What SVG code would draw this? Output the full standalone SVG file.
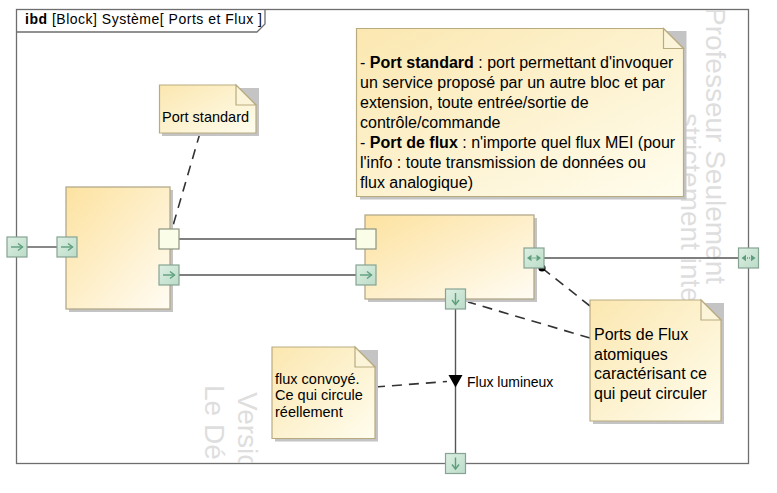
<svg xmlns="http://www.w3.org/2000/svg" xmlns:xlink="http://www.w3.org/1999/xlink" width="777" height="493" viewBox="0 0 777 493">
<style>
text{font-family:"Liberation Sans",Arial,sans-serif;fill:#000}
.wm{font-size:28px;fill:#dedede}
.frame{fill:#fff;stroke:#6e6e6e;stroke-width:1.3}
.tab{fill:none;stroke:#6e6e6e;stroke-width:1.3}
.blk{fill:url(#gBlock);stroke:#b3a98a;stroke-width:1.3}
.note{fill:url(#gNote);stroke:#b9ab80;stroke-width:1.2}
.fold{fill:#fcf4d8;stroke:#b9ab80;stroke-width:1.2}
.shadow{fill:#c4c4c4}
.pf{fill:url(#gPort);stroke:#86a393;stroke-width:1.2}
.ps{fill:#fafde8;stroke:#8c9580;stroke-width:1.2}
.ic{fill:none;stroke:#5f9e7d;stroke-width:1.4}
.icf{fill:#5f9e7d}
.con{fill:none;stroke:#555;stroke-width:1.4}
.dash{fill:none;stroke:#333;stroke-width:1.6;stroke-dasharray:10 7}
.t16{font-size:16px}
.t15{font-size:14.5px}
.t14{font-size:14.5px}
</style>
<defs>
<linearGradient id="gBlock" x1="0" y1="0" x2="1" y2="1">
<stop offset="0" stop-color="#fde2a0"/>
<stop offset="1" stop-color="#fffcf3"/>
</linearGradient>
<linearGradient id="gNote" x1="0" y1="0" x2="1" y2="1">
<stop offset="0" stop-color="#fbe7b0"/>
<stop offset="1" stop-color="#fffdee"/>
</linearGradient>
<linearGradient id="gPort" x1="0" y1="0" x2="1" y2="1">
<stop offset="0" stop-color="#dcefe2"/>
<stop offset="1" stop-color="#bcdcc9"/>
</linearGradient>
<clipPath id="cFrame"><rect x="17" y="10" width="731" height="453"/></clipPath>
<g id="arrR"><line class="ic" x1="4" y1="10" x2="15.5" y2="10"/><polyline class="ic" points="11,6.5 15.5,10 11,13.5"/></g>
<g id="arrD"><line class="ic" x1="10" y1="4" x2="10" y2="15.5"/><polyline class="ic" points="6.5,11 10,15.5 13.5,11"/></g>
<g id="arrB"><polygon class="icf" points="3,10 7.5,6.8 7.5,13.2"/><polygon class="icf" points="17,10 12.5,6.8 12.5,13.2"/><line class="ic" x1="8.5" y1="10" x2="11.5" y2="10" stroke-dasharray="1 1"/></g>
</defs>

<g id="frame">
<rect class="frame" x="16.5" y="9.5" width="732" height="454"/>
<g id="watermark" clip-path="url(#cFrame)">
<text class="wm" transform="translate(706,7) rotate(90)">Professeur Seulement</text>
<text class="wm" transform="translate(681,113) rotate(90)">strictement interne</text>
<text class="wm" transform="translate(238,392) rotate(90)">Version</text>
<text class="wm" transform="translate(205,385) rotate(90)">Le Dé</text>
</g>
<polyline class="tab" points="16.5,32 257,32 265,24 265,9.5"/>
<text x="25" y="24" font-size="14" textLength="237" lengthAdjust="spacing"><tspan font-weight="bold">ibd</tspan> [Block] Système[ Ports et Flux ]</text>
</g>

<g id="connectors">
<line class="con" x1="27" y1="247" x2="57" y2="247"/>
<line class="con" x1="179" y1="239" x2="356" y2="239"/>
<line class="con" x1="179" y1="275" x2="356" y2="275"/>
<line class="con" x1="544" y1="258" x2="738.5" y2="258"/>
<line class="con" x1="455.5" y1="309" x2="455.5" y2="453.5"/>
<polygon points="448.5,375 462.5,375 455.5,387.5" fill="#000"/>
<text x="467" y="387" font-size="14">Flux lumineux</text>
<line class="dash" x1="200" y1="133" x2="172" y2="229"/>
<line class="dash" x1="590" y1="306" x2="542" y2="268"/>
<line class="dash" x1="590" y1="338" x2="468" y2="302"/>
<line class="dash" x1="375" y1="387" x2="447" y2="381.5"/>
<circle cx="542" cy="268" r="3.6" fill="#000"/>
</g>

<g id="framePorts">
<g id="portFrameLeft"><rect class="pf" x="7" y="237" width="20" height="20"/><use xlink:href="#arrR" href="#arrR" transform="translate(7,237)"/></g>
<g id="portFrameRight"><rect class="pf" x="738.5" y="248" width="20" height="20"/><use xlink:href="#arrB" href="#arrB" transform="translate(738.5,248)"/></g>
<g id="portFrameBottom"><rect class="pf" x="445.5" y="453.5" width="20" height="20"/><use xlink:href="#arrD" href="#arrD" transform="translate(445.5,453.5)"/></g>
</g>

<g id="block1">
<rect class="shadow" x="69" y="190" width="104" height="122"/>
<rect class="blk" x="66" y="187" width="104" height="122"/>
<rect class="pf" x="57" y="237" width="20" height="20"/><use xlink:href="#arrR" href="#arrR" transform="translate(57,237)"/>
<rect class="ps" x="159" y="229" width="20" height="20"/>
<rect class="pf" x="159" y="265" width="20" height="20"/><use xlink:href="#arrR" href="#arrR" transform="translate(159,265)"/>
</g>

<g id="block2">
<rect class="shadow" x="368" y="218" width="169" height="84"/>
<rect class="blk" x="365" y="215" width="169" height="84"/>
<rect class="ps" x="356" y="229" width="20" height="20"/>
<rect class="pf" x="356" y="265" width="20" height="20"/><use xlink:href="#arrR" href="#arrR" transform="translate(356,265)"/>
<rect class="pf" x="524" y="248" width="20" height="20"/><use xlink:href="#arrB" href="#arrB" transform="translate(524,248)"/>
<rect class="pf" x="445.5" y="289" width="20" height="20"/><use xlink:href="#arrD" href="#arrD" transform="translate(445.5,289)"/>
</g>

<g id="notePortStandard">
<path class="shadow" d="M162,88 H259 V136 H162 Z"/>
<path class="note" d="M159.5,85 H236 L256,105 V133 H159.5 Z"/>
<path class="fold" d="M236,85 V105 H256 Z"/>
<text class="t14" x="162" y="121.5">Port standard</text>
</g>

<g id="noteDefinitions">
<path class="shadow" d="M360,31 H686.5 V199.5 H360 Z"/>
<path class="note" d="M356.5,28.5 H663.5 L683.5,48.5 V196.5 H356.5 Z"/>
<path class="fold" d="M663.5,28.5 V48.5 H683.5 Z"/>
<text class="t16" x="360" y="67.5">- <tspan font-weight="bold">Port standard</tspan> : port permettant d'invoquer</text>
<text class="t16" x="360" y="87.6">un service proposé par un autre bloc et par</text>
<text class="t16" x="360" y="107.7">extension, toute entrée/sortie de</text>
<text class="t16" x="360" y="127.8">contrôle/commande</text>
<text class="t16" x="360" y="147.9">- <tspan font-weight="bold">Port de flux</tspan> : n'importe quel flux MEI (pour</text>
<text class="t16" x="360" y="168">l'info : toute transmission de données ou</text>
<text class="t16" x="360" y="188.1">flux analogique)</text>
</g>

<g id="notePortsFlux">
<path class="shadow" d="M593,303 H724 V424 H593 Z"/>
<path class="note" d="M590,300 H701 L721,320 V421 H590 Z"/>
<path class="fold" d="M701,300 V320 H721 Z"/>
<text class="t16" x="594" y="340">Ports de Flux</text>
<text class="t16" x="594" y="359.5">atomiques</text>
<text class="t16" x="594" y="379">caractérisant ce</text>
<text class="t16" x="594" y="398.5">qui peut circuler</text>
</g>

<g id="noteFluxConvoye">
<path class="shadow" d="M275,350 H378 V441.5 H275 Z"/>
<path class="note" d="M272,347 H355 L375,367 V438.5 H272 Z"/>
<path class="fold" d="M355,347 V367 H375 Z"/>
<text class="t15" x="275" y="383.5">flux convoyé.</text>
<text class="t15" x="275" y="400">Ce qui circule</text>
<text class="t15" x="275" y="416.5">réellement</text>
</g>
</svg>
